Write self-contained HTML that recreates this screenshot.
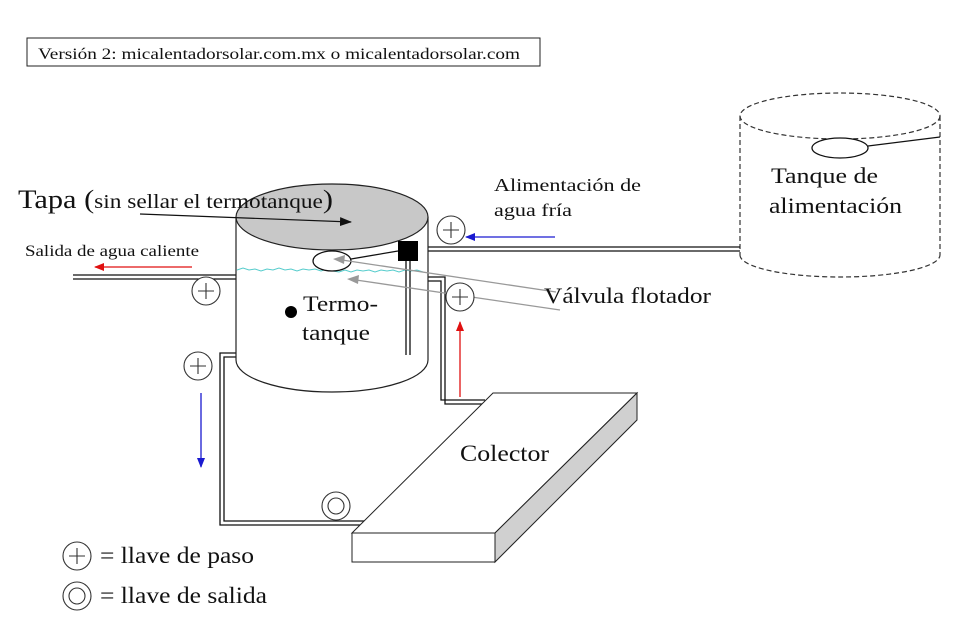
<!DOCTYPE html>
<html><head><meta charset="utf-8"><style>
html,body{margin:0;padding:0;background:#fff;width:960px;height:625px;overflow:hidden}
svg text{font-family:"Liberation Serif",serif;fill:#111}
</style></head><body>
<svg width="960" height="625" viewBox="0 0 960 625" xmlns="http://www.w3.org/2000/svg">
<defs>
<marker id="ab" markerWidth="10" markerHeight="8" refX="9" refY="4" orient="auto" markerUnits="userSpaceOnUse"><path d="M0,0 L10,4 L0,8z" fill="#1a1ad0"/></marker>
<marker id="ar" markerWidth="10" markerHeight="8" refX="9" refY="4" orient="auto" markerUnits="userSpaceOnUse"><path d="M0,0 L10,4 L0,8z" fill="#e01010"/></marker>
<marker id="ak" markerWidth="12" markerHeight="9" refX="11" refY="4.5" orient="auto" markerUnits="userSpaceOnUse"><path d="M0,0 L12,4.5 L0,9z" fill="#111"/></marker>
</defs>
<rect x="27" y="38" width="513" height="28" fill="#fff" stroke="#222"/>
<text x="38" y="59" font-size="16" textLength="482" lengthAdjust="spacingAndGlyphs">Versión 2: micalentadorsolar.com.mx o micalentadorsolar.com</text>

<!-- feed tank -->
<g fill="none" stroke="#333" stroke-dasharray="5,3" stroke-width="1.2">
<ellipse cx="840" cy="116" rx="100" ry="23"/>
<line x1="740" y1="116" x2="740" y2="255"/>
<line x1="940" y1="116" x2="940" y2="255"/>
<path d="M740,255 A100,22 0 0 0 940,255"/>
</g>
<ellipse cx="840" cy="148" rx="28" ry="10" fill="#fff" stroke="#111" stroke-width="1.3"/>
<line x1="868" y1="146" x2="940" y2="137" stroke="#111" stroke-width="1.3"/>
<text x="771" y="183" font-size="22" textLength="107" lengthAdjust="spacingAndGlyphs">Tanque de</text>
<text x="769" y="213" font-size="22" textLength="133" lengthAdjust="spacingAndGlyphs">alimentación</text>

<!-- pipes -->
<g fill="none" stroke="#111" stroke-width="1.3">
<line x1="418" y1="247" x2="740" y2="247"/><line x1="418" y1="251" x2="740" y2="251"/>
<line x1="73" y1="275" x2="287" y2="275"/><line x1="73" y1="279" x2="287" y2="279"/>
<path d="M236,353 H220 V525 H372"/><path d="M236,357 H224 V521 H372"/>
<path d="M428,277 H445 V404 H485"/><path d="M428,281 H441 V400 H485"/>
</g>

<!-- collector -->
<path d="M352,533 L493,393 L637,393 L495,533Z" fill="#fff" stroke="#222"/>
<path d="M495,533 L637,393 L637,420 L495,562Z" fill="#d0d0d0" stroke="#222"/>
<rect x="352" y="533" width="143" height="29" fill="#fff" stroke="#222"/>
<text x="460" y="461" font-size="23" textLength="89" lengthAdjust="spacingAndGlyphs">Colector</text>

<!-- main tank -->
<path d="M236,217 V360 A96,32 0 0 0 428,360 V217" fill="#fff" stroke="#222" stroke-width="1.2"/>
<ellipse cx="332" cy="217" rx="96" ry="33" fill="#c8c8c8" stroke="#222" stroke-width="1.2"/>
<path d="M237,270 l6,-2 l6,2 l6,-1 l6,2 l6,-2 l6,1 l6,-2 l6,2 l6,-1 l6,2 l6,-2 l6,1 l6,-1 l6,2 l6,-2 l6,2 l6,1 l6,-2 l6,2 l6,-2 l6,1 l6,-1 l6,2 l6,-2 l6,1 l6,-1 l6,2 l6,-2 l6,1 l6,-1 l6,2" fill="none" stroke="#5cc" stroke-width="1"/>
<line x1="406" y1="258" x2="406" y2="355" stroke="#111" stroke-width="1.3"/>
<line x1="410" y1="258" x2="410" y2="355" stroke="#111" stroke-width="1.3"/>
<rect x="398" y="241" width="20" height="20" fill="#000"/>
<ellipse cx="332" cy="261" rx="19" ry="10" fill="#fff" stroke="#111" stroke-width="1.3"/>
<line x1="351" y1="259" x2="398" y2="251" stroke="#111" stroke-width="1.3"/>
<circle cx="291" cy="312" r="6" fill="#000"/>
<text x="303" y="311" font-size="22" textLength="75" lengthAdjust="spacingAndGlyphs">Termo-</text>
<text x="302" y="340" font-size="22" textLength="68" lengthAdjust="spacingAndGlyphs">tanque</text>
<line x1="140" y1="214" x2="351" y2="222" stroke="#111" stroke-width="1.2" marker-end="url(#ak)"/>
<text x="18" y="208" font-size="26" textLength="315" lengthAdjust="spacingAndGlyphs">Tapa (<tspan font-size="20">sin sellar el termotanque</tspan>)</text>

<!-- grey arrows -->
<line x1="556" y1="292" x2="342" y2="260" stroke="#999" stroke-width="1.3"/>
<path d="M333,259 L345,255 L344,264z" fill="#999"/>
<line x1="560" y1="310" x2="356" y2="280" stroke="#999" stroke-width="1.3"/>
<path d="M347,279 L359,275 L358,284z" fill="#999"/>
<text x="544" y="303" font-size="22" textLength="167" lengthAdjust="spacingAndGlyphs">Válvula flotador</text>

<!-- flow arrows -->
<line x1="555" y1="237" x2="466" y2="237" stroke="#1a1ad0" stroke-width="1.3" marker-end="url(#ab)"/>
<line x1="192" y1="267" x2="95" y2="267" stroke="#e01010" stroke-width="1.3" marker-end="url(#ar)"/>
<line x1="460" y1="397" x2="460" y2="322" stroke="#e01010" stroke-width="1.3" marker-end="url(#ar)"/>
<line x1="201" y1="393" x2="201" y2="467" stroke="#1a1ad0" stroke-width="1.3" marker-end="url(#ab)"/>
<text x="494" y="191" font-size="18" textLength="147" lengthAdjust="spacingAndGlyphs">Alimentación de</text>
<text x="494" y="216" font-size="18" textLength="78" lengthAdjust="spacingAndGlyphs">agua fría</text>
<text x="25" y="256" font-size="16" textLength="174" lengthAdjust="spacingAndGlyphs">Salida de agua caliente</text>

<!-- valves -->
<g fill="#fff" stroke="#333" stroke-width="1.1">
<circle cx="451" cy="230" r="14"/><circle cx="206" cy="291" r="14"/>
<circle cx="460" cy="297" r="14"/><circle cx="198" cy="366" r="14"/>
<circle cx="77" cy="556" r="14"/>
<circle cx="336" cy="506" r="14"/><circle cx="336" cy="506" r="8"/>
<circle cx="77" cy="596" r="14"/><circle cx="77" cy="596" r="8"/>
</g>
<g stroke="#333" stroke-width="1.1">
<path d="M443,230h16M451,222v16"/><path d="M198,291h16M206,283v16"/>
<path d="M452,297h16M460,289v16"/><path d="M190,366h16M198,358v16"/>
<path d="M69,556h16M77,548v16"/>
</g>
<text x="100" y="563" font-size="23" textLength="154" lengthAdjust="spacingAndGlyphs">= llave de paso</text>
<text x="100" y="603" font-size="23" textLength="167" lengthAdjust="spacingAndGlyphs">= llave de salida</text>
</svg>
</body></html>
